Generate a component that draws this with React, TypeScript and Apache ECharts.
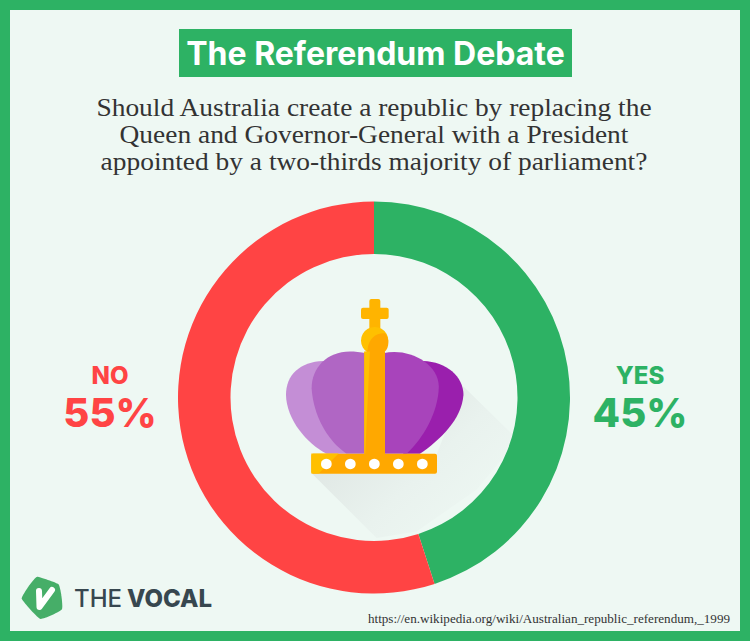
import React, { useEffect, useRef } from "react";
import * as echarts from "echarts";

const categories = ["YES", "NO"];
const values = [45, 55];
const colors = ["#2db264", "#ff4444"];
const titleText = "The Referendum Debate";
const questionLines = [
  "Should Australia create a republic by replacing the",
  "Queen and Governor-General with a President",
  "appointed by a two-thirds majority of parliament?",
];
const sourceText = "https://en.wikipedia.org/wiki/Australian_republic_referendum,_1999";
const dotXs = [169, 241, 313, 385, 457];

const reg = (name: string, d: string) =>
  echarts.graphic.registerShape(name, echarts.graphic.extendPath(d, {}) as any);
reg("crownShadow", "M125,550 L500,551 L501,492 L581,290 L745,450 L620,600 L440,725 L320,745 Z");
reg("lobeDark", "M460,213 C530,215 581,260 581,315 C575,390 510,450 450,492 L400,492 L440,213 Z");
reg("lobeLight", "M160,213 C90,215 48,255 48,315 C50,390 110,460 170,492 L230,492 L230,213 Z");
reg("lobeMidL", "M240,185 C170,185 125,235 125,295 C130,375 170,450 230,492 L290,492 L290,190 C270,187 255,185 240,185 Z");
reg("lobeMidR", "M340,190 C410,172 505,215 507,290 C505,370 460,445 410,492 L340,492 Z");
reg("globeShade", "M293,180 C295,145 320,128 345,130 C360,145 358,175 345,185 L345,195 L285,195 Z");
reg("stemSliver", "M283,185 L300,185 L286,492 L283,492 Z");
reg("baseCorner", "M124,491 L206,491 L146,551 L124,551 Z");
reg("logoBody", "M112,50 C118,50 170,68 175,72 C182,78 190,140 186,148 C182,155 130,178 122,177 C114,176 70,125 65,116 C63,110 102,52 112,50 Z");

export default function App() {
  const ref = useRef<HTMLDivElement>(null);
  useEffect(() => {
    const chart = echarts.init(ref.current!, undefined, { renderer: "svg" });
    const crown = (type: string, fill: any) => ({
      type, x: 270, y: 290, scaleX: 1 / 3, scaleY: 1 / 3, style: { fill },
    });
    const zr = (x: number, y: number, width: number, height: number, fill: string, r = 2) => ({
      type: "rect",
      shape: { x: 270 + x / 3, y: 290 + y / 3, width: width / 3, height: height / 3, r },
      style: { fill },
    });
    const sideLabel = (i: number, cx: number) => [
      {
        type: "text", x: cx, y: 375,
        style: {
          text: categories[i], fill: colors[i], font: "800 24px Inter",
          textAlign: "center", textVerticalAlign: "middle",
        },
      },
      {
        type: "text", x: cx, y: 412,
        style: {
          text: values[i] + "%", fill: colors[i], font: "800 40px Inter",
          textAlign: "center", textVerticalAlign: "middle",
        },
      },
    ];
    chart.setOption({
      animation: false,
      backgroundColor: "#eef8f3",
      series: [
        {
          type: "pie",
          silent: true,
          center: [374, 397.5],
          radius: [143.5, 196],
          startAngle: 90,
          clockwise: true,
          label: { show: false },
          labelLine: { show: false },
          data: categories.map((name, i) => ({
            name, value: values[i], itemStyle: { color: colors[i] },
          })),
        },
      ],
      graphic: [
        {
          type: "rect", shape: { x: 5, y: 5, width: 740, height: 631 },
          style: { fill: "none", stroke: "#2db264", lineWidth: 10 },
        },
        { type: "rect", shape: { x: 179, y: 29, width: 393, height: 48 }, style: { fill: "#2db264" } },
        {
          type: "text", x: 375.5, y: 53,
          style: {
            text: titleText, fill: "#ffffff", font: "700 32px Inter",
            textAlign: "center", textVerticalAlign: "middle",
          },
        },
        ...questionLines.map((text, i) => ({
          type: "text", x: 374, y: 107 + i * 27, scaleX: 1.055,
          style: {
            text, fill: "#333333", font: "400 26px 'Liberation Serif'",
            textAlign: "center", textVerticalAlign: "middle",
          },
        })),
        ...sideLabel(1, 110),
        ...sideLabel(0, 640),
        crown("crownShadow", new echarts.graphic.LinearGradient(0, 0.3, 0.85, 0.95, [
          { offset: 0, color: "#dde4e1" },
          { offset: 0.55, color: "#e9f2ee" },
          { offset: 1, color: "#eef8f3" },
        ])),
        crown("lobeDark", "#9a1fad"),
        crown("lobeLight", "#c48ed6"),
        crown("lobeMidL", "#b066c4"),
        crown("lobeMidR", "#a844bb"),
        zr(298, 27, 33, 100, "#ffb400"),
        zr(273, 53, 83, 34, "#ffb400"),
        { type: "circle", shape: { cx: 270 + 314 / 3, cy: 290 + 152 / 3, r: 41 / 3 }, style: { fill: "#ffc000" } },
        crown("globeShade", "#ffa800"),
        zr(283, 185, 62, 307, "#ffa800", 0),
        crown("stemSliver", "#ffc000"),
        zr(124, 491, 377, 60, "#ffa800"),
        crown("baseCorner", "#ffc000"),
        ...dotXs.map((x) => ({
          type: "circle", shape: { cx: 270 + x / 3, cy: 290 + 522 / 3, r: 16 / 3 }, style: { fill: "#ffffff" },
        })),
        {
          type: "logoBody", x: 0, y: 560, scaleX: 1 / 3, scaleY: 1 / 3,
          style: { fill: "#46ae68" },
        },
        {
          type: "polyline",
          shape: { points: [[39, 591], [39.5, 607], [52, 590]] },
          style: { fill: "none", stroke: "#ffffff", lineWidth: 6, lineCap: "round", lineJoin: "round" },
        },
        {
          type: "text", x: 74, y: 598,
          style: { text: "THE", fill: "#37474f", font: "500 24px Inter", textVerticalAlign: "middle" },
        },
        {
          type: "text", x: 127, y: 598,
          style: { text: "VOCAL", fill: "#37474f", font: "800 24px Inter", textVerticalAlign: "middle" },
        },
        {
          type: "text", x: 730, y: 619, scaleX: 1.01,
          style: {
            text: sourceText, fill: "#333333", font: "400 13px 'Liberation Serif'",
            textAlign: "right", textVerticalAlign: "middle",
          },
        },
      ],
    });
    return () => chart.dispose();
  }, []);
  return <div ref={ref} style={{ position: "absolute", left: 0, top: 0, width: 750, height: 641 }} />;
}
